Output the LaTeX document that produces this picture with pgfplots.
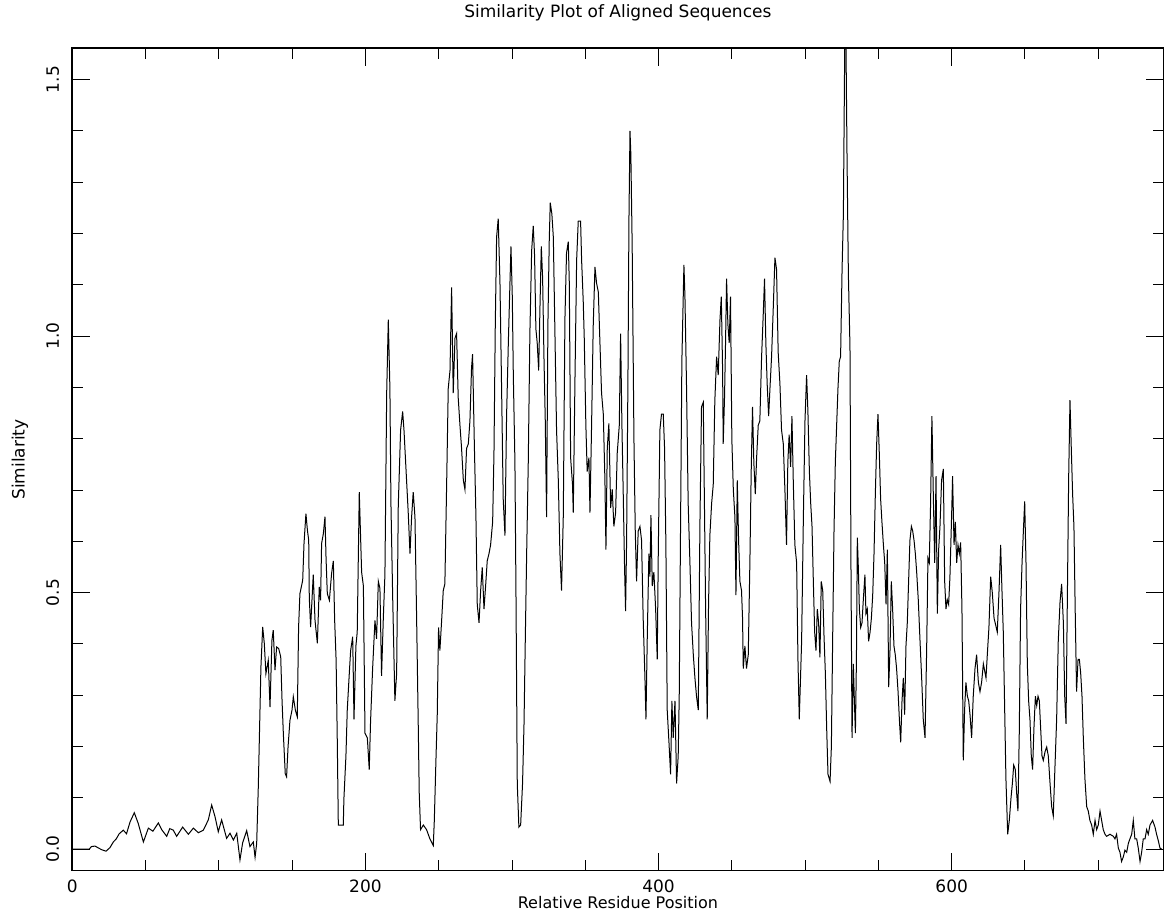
\documentclass[border=0pt]{standalone}
\usepackage{pgfplots}
\pgfplotsset{compat=1.18}
\usepackage{pgfplotstable}
\usepackage{fontspec}
\setmainfont{DejaVu Sans}
\pgfplotstableread{
x y
0 0
11.6 0
13 0.005
15.5 0.006
18 0.002
20 -0.001
23 -0.004
25.7 0.003
28 0.014
30 0.02
32 0.03
34.8 0.037
37 0.03
39.4 0.053
42.3 0.071
45 0.05
48.5 0.014
51.9 0.041
55 0.035
58.7 0.051
61 0.038
64.4 0.025
66.5 0.04
68.9 0.037
71.2 0.025
75.3 0.043
79.2 0.029
82.6 0.041
86 0.032
89.4 0.037
92.8 0.057
95.1 0.086
97.4 0.063
99.6 0.034
101.9 0.057
105.3 0.021
107.6 0.031
109.9 0.018
112.2 0.031
114.4 -0.021
116.2 0.012
119 0.036
121.2 0.005
123.5 0.014
124.7 -0.016
125.8 0.011
126.9 0.121
128 0.264
128.7 0.355
129.9 0.433
131 0.401
132.1 0.342
133.7 0.368
134.9 0.277
136.2 0.407
137.1 0.427
138.3 0.349
139.4 0.394
140.8 0.391
142.2 0.375
143.1 0.29
144 0.225
145.3 0.147
146.2 0.141
147.2 0.199
148.5 0.251
149.9 0.271
150.8 0.297
152.2 0.271
153.5 0.258
154.4 0.433
155.3 0.498
157.2 0.524
158.1 0.596
159.4 0.654
160.4 0.622
161.3 0.602
161.7 0.49
162.6 0.433
164.4 0.535
165.6 0.446
167.2 0.401
168.5 0.511
169.4 0.485
170.1 0.596
171.3 0.615
172.4 0.648
173.1 0.57
173.5 0.537
174 0.498
175.4 0.485
176.9 0.537
178.1 0.562
179 0.446
180 0.368
180.8 0.21
181.5 0.047
184.9 0.047
185.3 0.097
186.7 0.182
187.6 0.271
189 0.343
189.9 0.387
191.3 0.414
192.2 0.253
193.5 0.396
194.4 0.423
195.8 0.696
197.4 0.54
198.6 0.513
199.7 0.226
201.3 0.217
202.6 0.155
203.5 0.249
204.9 0.352
206.5 0.446
207.6 0.41
208.8 0.522
209.9 0.508
211 0.338
212.2 0.45
213.3 0.535
214.5 0.889
215.6 1.032
216.7 0.898
217.4 0.674
218.6 0.49
220.1 0.289
221.3 0.343
222.4 0.669
224 0.817
225.4 0.853
226.3 0.817
227.6 0.745
229.2 0.656
230.4 0.576
231.5 0.647
232.6 0.696
233.8 0.647
234.9 0.455
236 0.249
236.7 0.11
237.6 0.038
239.5 0.047
241.7 0.038
244 0.02
246.3 0.007
247 0.056
248.1 0.173
249 0.262
249.9 0.432
250.8 0.387
252 0.446
253.1 0.504
254.2 0.517
255.4 0.71
256.5 0.898
257.7 0.933
258.8 1.095
259.9 0.889
261.1 0.996
262.2 1.005
263.3 0.88
264.5 0.826
265.6 0.781
266.8 0.719
267.9 0.701
269 0.781
270.2 0.79
271.3 0.835
272.4 0.938
273.1 0.965
274.3 0.79
275.4 0.647
276.3 0.477
277.5 0.441
278.6 0.504
279.7 0.549
280.9 0.468
282 0.513
283.1 0.562
284.3 0.576
285.4 0.593
286.8 0.638
287.7 0.772
288.6 1.023
289.5 1.193
290.6 1.229
291.8 1.103
292.9 0.898
294 0.683
295.2 0.611
296.3 0.844
297.5 0.987
298.6 1.103
299.3 1.175
300.2 1.077
300.9 0.924
302 0.754
302.7 0.504
303.6 0.128
304.7 0.043
305.9 0.047
307.2 0.128
308.2 0.244
309.1 0.414
310 0.576
311.1 0.754
312.2 1.005
313.4 1.166
314.5 1.215
315.4 1.157
316.3 1.014
317.2 0.987
318.2 0.933
319.1 1.059
320 1.175
320.9 1.112
321.8 0.96
322.7 0.835
323.6 0.647
324.5 1.023
325.4 1.184
326.1 1.26
327.2 1.238
328.2 1.193
329.3 1.005
330.4 0.817
331.6 0.719
332.7 0.576
333.8 0.504
335 0.65
336.1 1.032
337.2 1.162
338.4 1.184
339.1 1.103
340 0.763
341.3 0.71
341.8 0.656
343 0.924
344.1 1.148
345.2 1.224
346.8 1.224
347.5 1.148
348.6 1.068
349.3 0.996
350.4 0.826
351.3 0.736
352.5 0.763
353.2 0.656
354.3 0.826
355.4 1.018
356.6 1.135
357.7 1.103
358.9 1.086
360 0.987
361.1 0.889
362.3 0.848
363.4 0.719
364.1 0.584
365 0.781
366.1 0.83
367.3 0.665
368.4 0.701
369.5 0.629
370.7 0.656
371.8 0.772
373.2 0.826
374.1 1.005
375 0.826
375.9 0.692
376.8 0.549
377.5 0.464
378.2 0.602
379.1 0.915
379.8 1.229
380.5 1.40
381.1 1.354
382 1.175
383.2 0.799
384.1 0.62
385 0.522
386.1 0.62
387.3 0.629
388.4 0.602
389.5 0.45
390.7 0.334
391.4 0.253
392.3 0.414
393.4 0.576
394.1 0.531
394.8 0.651
395.7 0.513
396.8 0.54
398 0.468
399.1 0.37
399.8 0.576
400.9 0.817
402 0.848
403.2 0.848
404.1 0.781
405 0.593
405.9 0.271
407.1 0.208
408.2 0.146
409.1 0.289
410 0.217
411.2 0.289
412.3 0.128
413.4 0.182
414.1 0.298
415 0.629
415.9 0.951
417.3 1.139
418 1.077
419.1 0.898
420.2 0.674
421.4 0.558
422.5 0.441
423.7 0.379
424.8 0.334
425.9 0.298
427.1 0.271
428.2 0.629
429.3 0.862
430.5 0.871
431.4 0.647
432.1 0.468
433.2 0.253
434.1 0.477
435 0.611
436.2 0.674
437.3 0.71
438.4 0.875
439.6 0.96
440.7 0.924
441.9 1.032
442.8 1.077
443.7 0.933
444.1 0.79
445 0.88
445.7 0.987
446.4 1.112
447.3 1.023
448.2 0.987
449.1 1.077
450 0.799
451 0.701
452.1 0.647
452.8 0.495
453.7 0.719
454.6 0.602
455.5 0.522
456.6 0.504
457.3 0.45
457.8 0.352
458.9 0.396
460 0.352
461.2 0.379
462.3 0.558
463.2 0.736
464.1 0.862
465 0.754
466 0.692
466.9 0.763
468 0.826
469.1 0.835
470.3 0.96
471.4 1.041
472.3 1.112
473.2 0.987
474.1 0.907
475.1 0.844
476 0.898
477.1 0.96
478.2 1.05
479.4 1.153
480.5 1.13
481.6 0.969
482.8 0.907
483.9 0.817
485.1 0.79
486.2 0.701
487.3 0.593
488.2 0.754
489.1 0.808
490.1 0.745
491 0.844
491.9 0.719
493 0.593
494.2 0.558
495.1 0.37
496 0.253
497.6 0.405
498.8 0.647
499.9 0.835
501 0.924
501.9 0.853
502.9 0.736
503.8 0.674
504.7 0.629
505.6 0.522
506.5 0.423
507.4 0.387
508.3 0.468
509.2 0.441
510.1 0.374
511 0.522
512 0.504
512.9 0.414
513.8 0.343
514.7 0.235
515.6 0.146
517 0.132
517.9 0.199
518.8 0.414
519.7 0.62
520.6 0.754
521.5 0.826
522.4 0.898
523.3 0.951
524.2 0.96
525.2 1.13
526.1 1.238
527 1.56
527.9 1.56
528.6 1.345
529.5 1.121
530.6 0.978
531.3 0.54
532 0.217
532.9 0.361
533.6 0.289
534.3 0.226
535 0.37
535.6 0.607
536.3 0.549
537 0.468
537.9 0.432
538.8 0.441
539.7 0.486
540.8 0.535
541.5 0.459
542.4 0.468
543.3 0.405
544.3 0.423
545.2 0.45
546.1 0.495
547 0.576
547.9 0.692
548.8 0.79
549.7 0.848
550.6 0.772
551.5 0.683
552.4 0.638
553.4 0.593
554.3 0.558
555.2 0.477
556.1 0.584
557 0.316
557.9 0.387
558.8 0.522
559.7 0.468
560.6 0.396
561.5 0.379
562.4 0.352
563.4 0.307
564.3 0.253
565.2 0.208
566.1 0.289
567 0.334
567.9 0.262
568.8 0.396
569.7 0.441
570.6 0.522
571.5 0.602
572.5 0.629
573.4 0.62
574.3 0.602
575.2 0.576
576.1 0.54
577.2 0.486
578.4 0.405
579.5 0.334
580.6 0.253
581.8 0.217
582.9 0.387
583.8 0.567
584.7 0.558
585.6 0.674
586.5 0.844
587.5 0.683
588.4 0.558
589.3 0.727
590.2 0.459
591.1 0.584
592 0.629
593.1 0.719
594.3 0.741
595.2 0.522
596.1 0.468
597 0.486
597.9 0.477
598.8 0.531
600 0.656
600.6 0.727
601.6 0.593
602.5 0.638
603.4 0.558
604.3 0.593
605.2 0.576
606.1 0.598
607 0.468
607.9 0.173
608.8 0.271
609.7 0.325
610.7 0.298
611.6 0.289
612.5 0.262
613.6 0.217
614.7 0.298
615.9 0.352
617 0.379
618.2 0.325
619.3 0.307
620.4 0.325
621.6 0.361
623.4 0.334
624.3 0.379
625.4 0.432
626.6 0.531
627.7 0.5
628.9 0.45
630 0.437
631.1 0.423
632.3 0.504
633.4 0.593
634.3 0.504
635.2 0.423
636.1 0.28
637 0.137
638.2 0.029
639.3 0.056
640.5 0.101
641.4 0.128
642.3 0.164
643.4 0.155
644.3 0.11
645.2 0.074
646.1 0.226
647 0.468
648 0.558
648.9 0.62
649.8 0.678
650.7 0.558
651.6 0.361
652.5 0.289
653.4 0.253
654.3 0.182
655.2 0.155
656.1 0.235
657.1 0.298
658 0.28
658.9 0.298
659.8 0.289
660.7 0.235
661.6 0.182
662.5 0.173
663.7 0.19
664.8 0.199
665.9 0.182
667.1 0.128
668.2 0.083
669.3 0.065
670.5 0.164
671.6 0.253
672.7 0.405
673.9 0.481
675 0.517
676.2 0.441
677.1 0.298
678 0.244
678.9 0.486
679.8 0.723
680.7 0.875
681.6 0.781
682.5 0.692
683.4 0.629
684.3 0.459
685.2 0.307
686.2 0.37
687.1 0.37
688 0.343
688.9 0.298
689.8 0.217
690.9 0.137
692.1 0.083
693.2 0.074
694.3 0.056
695.5 0.047
696.6 0.029
697.8 0.056
698.9 0.038
700 0.047
701.2 0.074
702.3 0.056
703.4 0.038
704.6 0.029
705.7 0.025
708 0.029
710.3 0.025
711.4 0.02
712.5 0.029
713.7 0.002
714.8 -0.006
715.9 -0.024
717.1 -0.015
718.2 -0.002
719.4 -0.006
720.5 0.011
721.6 0.02
722.8 0.029
723.9 0.056
725 0.02
726.2 0.02
727.3 0.002
728.5 -0.024
729.6 -0.006
730.7 0.02
731.9 0.02
733 0.038
734.1 0.029
735.3 0.047
737.1 0.056
738.7 0.043
739.8 0.029
741 0.016
742.1 0.002
743.3 0.0
}\simdata
\begin{document}
\begin{tikzpicture}
\useasboundingbox (-36.15pt,-20.15pt) rectangle (545.85pt,435.35pt);
\begin{axis}[
  at={(0,0)}, anchor=south west, scale only axis,
  width=545.6pt, height=411.2pt,
  xmin=0, xmax=744.5, ymin=-0.042, ymax=1.561,
  xtick={0,200,400,600}, ytick={0,0.5,1,1.5},
  minor xtick={50,100,150,250,300,350,450,500,550,650,700},
  minor ytick={0.1,0.2,0.3,0.4,0.6,0.7,0.8,0.9,1.1,1.2,1.3,1.4},
  tick align=inside, tick pos=both,
  major tick length=8.75pt, minor tick length=5.2pt,
  every tick/.style={black, line width=0.5pt},
  axis line style={line width=0.8pt},
  ticklabel style={font=\fontsize{8.5}{10}\selectfont},
  /pgf/number format/assume math mode=true,
  yticklabel style={rotate=90, anchor=south, /pgf/number format/.cd, fixed, fixed zerofill, precision=1},
  xticklabel style={/pgf/number format/.cd, fixed, precision=0},
  yticklabel shift=3pt, xticklabel shift=1pt,
  title={Similarity Plot of Aligned Sequences},
  title style={at={(axis description cs:0.5,1.029)}, anchor=center, font=\fontsize{8.5}{10}\selectfont},
  xlabel={Relative Residue Position},
  xlabel style={at={(axis description cs:0.5,-0.039)}, anchor=center, font=\fontsize{8}{10}\selectfont},
  ylabel={Similarity},
  ylabel style={at={(axis description cs:-0.048,0.5)}, anchor=center, font=\fontsize{8.5}{10}\selectfont},
]
\addplot[black, line width=0.5pt, mark=none] table[x=x,y=y] {\simdata};
\end{axis}
\end{tikzpicture}
\end{document}
